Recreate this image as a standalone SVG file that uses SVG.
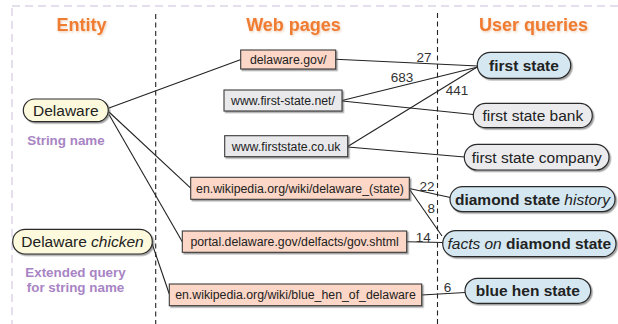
<svg xmlns="http://www.w3.org/2000/svg" width="618" height="324" viewBox="0 0 618 324">
  <defs>
    <filter id="shadow" x="-10%" y="-20%" width="125%" height="160%">
      <feDropShadow dx="1.5" dy="1.5" stdDeviation="0.7" flood-color="#555" flood-opacity="0.55"/>
    </filter>
    <filter id="soft" x="-10%" y="-30%" width="125%" height="170%">
      <feDropShadow dx="1" dy="1.2" stdDeviation="1" flood-color="#c06020" flood-opacity="0.3"/>
    </filter>
    <style>
      text { font-family: "Liberation Sans", Arial, sans-serif; }
      .head { font-size: 18px; font-weight: bold; fill: #f07b30; text-anchor: middle; }
      .note { font-size: 13.4px; font-weight: bold; fill: #a884c4; text-anchor: middle; }
      .ent { fill: #fdf9dc; stroke: #2b2b2b; stroke-width: 1.2; }
      .pink { fill: #fcd6c6; stroke: #3a3a3a; stroke-width: 1.1; }
      .grey { fill: #e9e9ec; stroke: #3a3a3a; stroke-width: 1.1; }
      .blue { fill: #d5e8f2; stroke: #2b2b2b; stroke-width: 1.2; }
      .qgrey { fill: #ebebee; stroke: #2b2b2b; stroke-width: 1.2; }
      .lbl16 { font-size: 15.5px; fill: #222; text-anchor: middle; }
      .url { font-size: 12.3px; fill: #222; text-anchor: middle; }
      .q { font-size: 15.5px; fill: #222; text-anchor: middle; }
      .b { font-weight: bold; }
      .i { font-style: italic; }
      .num { font-size: 13.5px; fill: #333; text-anchor: middle; }
      .edge { stroke: #222; stroke-width: 1.1; fill: none; }
      .col { stroke: #222; stroke-width: 1.1; stroke-dasharray: 5 3.5; fill: none; }
    </style>
  </defs>

  <rect width="618" height="324" fill="#ffffff"/>

  <!-- outer frame -->
  <rect x="12" y="6" width="640" height="340" fill="none" stroke="#dcd3ea" stroke-width="1.5" stroke-dasharray="8 5"/>

  <!-- column separators -->
  <line class="col" x1="155.7" y1="14" x2="155.7" y2="324"/>
  <line class="col" x1="437.5" y1="13" x2="437.5" y2="324"/>

  <!-- column headers -->
  <text class="head" x="81.5" y="31" filter="url(#soft)">Entity</text>
  <text class="head" x="293.5" y="31" filter="url(#soft)">Web pages</text>
  <text class="head" x="533.5" y="31" filter="url(#soft)">User queries</text>

  <text class="note" x="66" y="145">String name</text>
  <text class="note" x="75.5" y="277">Extended query</text>
  <text class="note" x="75.5" y="292">for string name</text>

  <!-- connectors -->
  <g id="edges">
    <line class="edge" x1="109" y1="108" x2="241" y2="59.5"/>
    <line class="edge" x1="109" y1="112" x2="191" y2="188.3"/>
    <line class="edge" x1="109" y1="114.5" x2="182.3" y2="241.7"/>
    <line class="edge" x1="152" y1="243.5" x2="169.3" y2="294"/>

    <line class="edge" x1="335.7" y1="59.3" x2="478" y2="66"/>
    <line class="edge" x1="342" y1="100.5" x2="478" y2="67"/>
    <line class="edge" x1="342" y1="101" x2="473.5" y2="114.5"/>
    <line class="edge" x1="347.7" y1="146.5" x2="478" y2="66.5"/>
    <line class="edge" x1="347.7" y1="147" x2="464.5" y2="157"/>

    <line class="edge" x1="409.3" y1="188.5" x2="450.3" y2="197.5"/>
    <line class="edge" x1="409.3" y1="189" x2="442" y2="236"/>
    <line class="edge" x1="406.7" y1="241.7" x2="443" y2="242.5"/>
    <line class="edge" x1="421.7" y1="295" x2="465.3" y2="292.5"/>
  </g>

  <!-- edge weights -->
  <g id="weights">
    <text class="num" x="424" y="61.5">27</text>
    <text class="num" x="402" y="81.5">683</text>
    <text class="num" x="457" y="95">441</text>
    <text class="num" x="427" y="190.5">22</text>
    <text class="num" x="431.3" y="213">8</text>
    <text class="num" x="423.3" y="241.5">14</text>
    <text class="num" x="447.5" y="291.5">6</text>
  </g>

  <!-- entities -->
  <g id="n-delaware">
    <rect class="ent" x="23.3" y="99" width="85" height="22.7" rx="11.35" filter="url(#shadow)"/>
    <text class="lbl16" x="65.8" y="116">Delaware</text>
  </g>
  <g id="n-delaware-chicken">
    <rect class="ent" x="12.7" y="229.3" width="139.6" height="24.7" rx="12.35" filter="url(#shadow)"/>
    <text class="lbl16" x="82.5" y="247">Delaware <tspan class="i">chicken</tspan></text>
  </g>

  <!-- web pages -->
  <g id="p-delaware-gov">
    <rect class="pink" x="240.7" y="50" width="95" height="19" filter="url(#shadow)"/>
    <text class="url" x="288.2" y="64">delaware.gov/</text>
  </g>
  <g id="p-first-state-net">
    <rect class="grey" x="224" y="90" width="118" height="21" filter="url(#shadow)"/>
    <text class="url" x="283" y="105">www.first-state.net/</text>
  </g>
  <g id="p-firststate-co-uk">
    <rect class="grey" x="224.7" y="135.7" width="123" height="21" filter="url(#shadow)"/>
    <text class="url" x="286.2" y="150.7">www.firststate.co.uk</text>
  </g>
  <g id="p-wiki-delaware-state">
    <rect class="pink" x="190.7" y="177.3" width="218.6" height="22" filter="url(#shadow)"/>
    <text class="url" x="300" y="192.8">en.wikipedia.org/wiki/delaware_(state)</text>
  </g>
  <g id="p-portal-delfacts">
    <rect class="pink" x="182.3" y="231" width="224.4" height="21.3" filter="url(#shadow)"/>
    <text class="url" x="294.5" y="246.2">portal.delaware.gov/delfacts/gov.shtml</text>
  </g>
  <g id="p-wiki-blue-hen">
    <rect class="pink" x="169.3" y="284" width="252.4" height="21.7" filter="url(#shadow)"/>
    <text class="url" x="295.5" y="299.4">en.wikipedia.org/wiki/blue_hen_of_delaware</text>
  </g>

  <!-- user queries -->
  <g id="q-first-state">
    <rect class="blue" x="477.3" y="52.3" width="93.4" height="26" rx="13" filter="url(#shadow)"/>
    <text class="q b" x="524" y="70.8">first state</text>
  </g>
  <g id="q-first-state-bank">
    <rect class="qgrey" x="473.3" y="103.3" width="119" height="24.4" rx="12.2" filter="url(#shadow)"/>
    <text class="q" x="532.8" y="121">first state bank</text>
  </g>
  <g id="q-first-state-company">
    <rect class="qgrey" x="464.3" y="144.3" width="144.7" height="25.7" rx="12.85" filter="url(#shadow)"/>
    <text class="q" x="536.7" y="162.7">first state company</text>
  </g>
  <g id="q-diamond-state-history">
    <rect class="blue" x="450" y="186.7" width="165" height="25" rx="12.5" filter="url(#shadow)"/>
    <text class="q" x="532.5" y="204.7"><tspan class="b">diamond state</tspan> <tspan class="i">history</tspan></text>
  </g>
  <g id="q-facts-on-diamond-state">
    <rect class="blue" x="442.7" y="230.7" width="173.3" height="26" rx="13" filter="url(#shadow)"/>
    <text class="q" x="529.3" y="249.2"><tspan class="i">facts on</tspan> <tspan class="b">diamond state</tspan></text>
  </g>
  <g id="q-blue-hen-state">
    <rect class="blue" x="465" y="278.3" width="125.7" height="25" rx="12.5" filter="url(#shadow)"/>
    <text class="q b" x="527.8" y="296.3">blue hen state</text>
  </g>
</svg>
